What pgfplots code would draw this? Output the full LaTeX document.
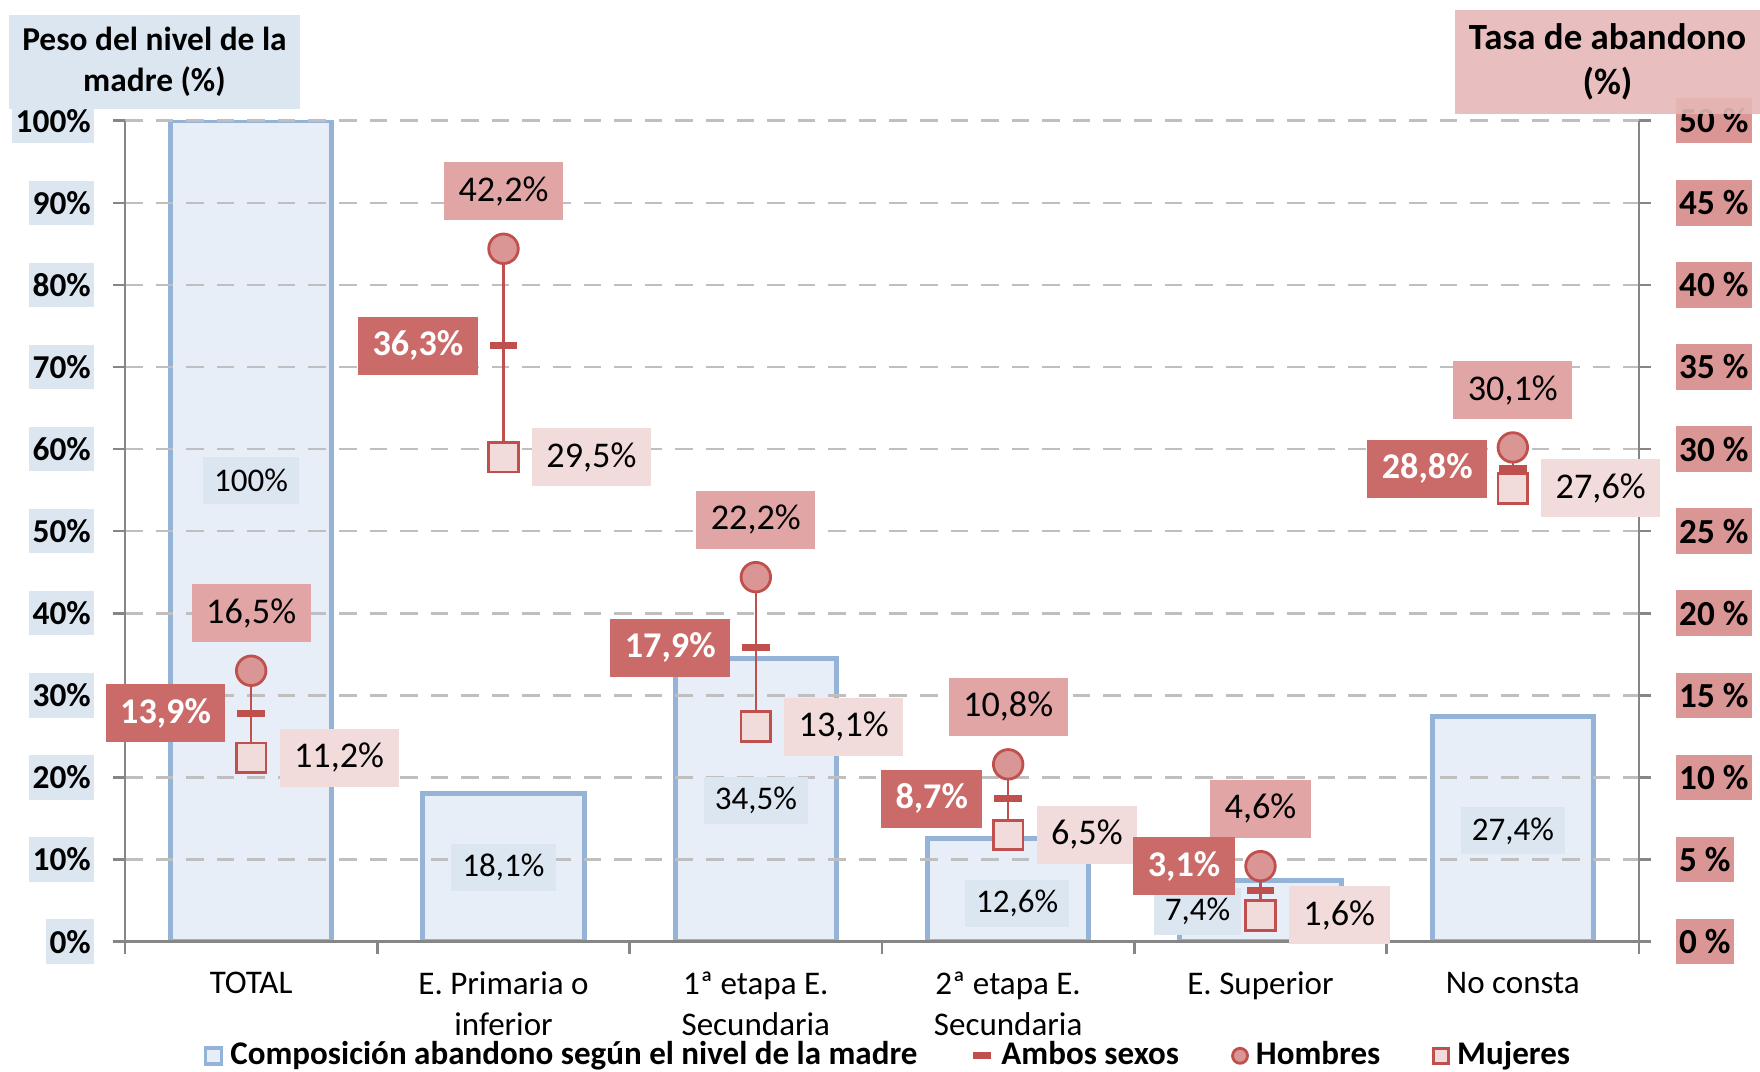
\documentclass[border=0pt]{standalone}
\usepackage{pgfplots}
\pgfplotsset{compat=1.18}
\usepackage{pgfplotstable}
\usepackage{fontspec}
\setmainfont{Carlito}

\definecolor{barfill}{HTML}{E7EEF7}
\definecolor{barline}{HTML}{95B3D7}
\definecolor{barlab}{HTML}{DCE6F1}
\definecolor{rojo}{HTML}{C0504D}
\definecolor{hfill}{HTML}{DA9694}
\definecolor{hlab}{HTML}{E0A5A4}
\definecolor{alab}{HTML}{CB6B69}
\definecolor{mfill}{HTML}{F2DCDB}
\definecolor{rtick}{HTML}{DA9694}
\definecolor{rtitle}{HTML}{E6B8B7}
\definecolor{ejes}{HTML}{868686}
\definecolor{rejilla}{HTML}{BFBFBF}

% peso del nivel de la madre (eje izquierdo)
\pgfplotstableread{
x peso
0 100
1 18.1
2 34.5
3 12.6
4 7.4
5 27.4
}\peso

% posicion de las etiquetas de las barras
\pgfplotstableread{
x pos dx peso
0 56.2 0 100
1 9.0 0 18.1
2 17.2 0 34.5
3 4.65 0.09 12.6
4 3.7 -0.63 7.4
5 13.5 0 27.4
}\pesolab

% tasa de abandono (eje derecho)
\pgfplotstableread{
x hombres ambos mujeres dy
0 16.5 13.9 11.2 0
1 42.2 36.3 29.5 0
2 22.2 17.9 13.1 0
3 10.8 8.7 6.5 0
4 4.6 3.1 1.6 0.247
5 30.1 28.8 27.6 0
}\tasa

\pgfkeys{/pgf/number format/.cd, use comma, fixed, precision=1, assume math mode=true}

\tikzset{lab/.style={text=black, font=\fontsize{10.3}{12}\selectfont, inner xsep=0.145cm,
    inner ysep=0pt, minimum height=0.58cm}}

\pgfplotsset{
  base/.style={
    width=15.14cm, height=8.21cm, scale only axis,
    at={(0,0)}, anchor=south west,
    xmin=-0.5, xmax=5.5,
    axis line style={ejes, line width=0.7pt},
    tick style={ejes, line width=0.7pt},
    major tick length=0pt, minor tick length=0.12cm,
    tick align=outside,
  },
}

\begin{document}
\begin{tikzpicture}
\begin{axis}[base,
  ymin=0, ymax=100, ytick={0,10,...,100}, minor ytick={0,10,...,100},
  axis x line*=bottom, axis y line*=left,
  axis on top,
  ymajorgrids, major grid style={rejilla, line width=0.7pt, dash pattern=on 5pt off 3.7pt},
  yticklabel={\pgfmathprintnumber[assume math mode=true]{\tick}\%},
  yticklabel style={anchor=east, font=\fontsize{9.5}{11}\selectfont\bfseries, fill=barlab,
    inner xsep=1pt, inner ysep=3pt, xshift=-0.3cm},
  xtick={0,...,5}, minor xtick={-0.5,0.5,...,5.5},
  xticklabels={TOTAL, E. Primaria o\\inferior, 1ª etapa E.\\Secundaria, 2ª etapa E.\\Secundaria, E. Superior, No consta},
  xticklabel style={align=center, font=\fontsize{9.4}{11.5}\selectfont, yshift=-0.18cm},
]
\addplot[ybar, bar width=0.64, fill=barfill, draw=barline, line width=1.4pt]
  table[x=x, y=peso]{\peso};
\addplot[draw=none, mark=none, nodes near coords, point meta=\thisrow{peso},
  nodes near coords={\pgfmathprintnumber{\pgfplotspointmeta}\%},
  visualization depends on={\thisrow{dx} \as \dx},
  every node near coord/.append style={anchor=center, xshift=\dx cm, fill=barlab, text=black,
    font=\fontsize{9.4}{11}\selectfont, inner xsep=0.11cm, inner ysep=0pt, minimum height=0.47cm}]
  table[x=x, y=pos]{\pesolab};
\end{axis}

\begin{axis}[base,
  ymin=0, ymax=50, ytick={0,5,...,50}, minor ytick={0,5,...,50},
  axis x line=none, axis y line*=right,
  yticklabel={\pgfmathprintnumber[assume math mode=true]{\tick}~\%},
  yticklabel style={anchor=west, font=\fontsize{10}{12}\selectfont\bfseries, fill=rtick,
    inner xsep=1pt, inner ysep=3pt, xshift=0.36cm},
  legend style={at={(0.5056,-0.139)}, anchor=center, draw=none, fill=none,
    font=\fontsize{9.4}{11}\selectfont\bfseries, legend columns=4,
    /tikz/every even column/.append style={column sep=0.45cm}},
]
% Ambos sexos, con la linea entre mujeres y hombres
\addplot[forget plot, only marks, mark=-, mark size=3.9pt, mark options={rojo, line width=1.9pt},
  error bars/.cd, y dir=both, y explicit, error mark=none,
  error bar style={rojo, line width=0.6pt, solid}]
  table[x=x, y=ambos,
    y error plus expr=\thisrow{hombres}-\thisrow{ambos},
    y error minus expr=\thisrow{ambos}-\thisrow{mujeres}]{\tasa};
% Hombres
\addplot[forget plot, only marks, mark=*, mark size=4.2pt,
  mark options={fill=hfill, draw=rojo, line width=0.8pt},
  nodes near coords={\pgfmathprintnumber{\pgfplotspointmeta}\%},
  every node near coord/.append style={lab, anchor=south, yshift=0.27cm, fill=hlab}]
  table[x=x, y=hombres]{\tasa};
% Mujeres
\addplot[forget plot, only marks, mark=square*, mark size=4.2pt,
  mark options={fill=mfill, draw=rojo, line width=0.8pt},
  nodes near coords={\pgfmathprintnumber{\pgfplotspointmeta}\%},
  every node near coord/.append style={lab, anchor=west, xshift=0.27cm, fill=mfill}]
  table[x=x, y=mujeres]{\tasa};
% etiquetas de ambos sexos
\addplot[forget plot, draw=none, mark=none,
  nodes near coords={\pgfmathprintnumber{\pgfplotspointmeta}\%},
  visualization depends on={\thisrow{dy} \as \dy},
  every node near coord/.append style={lab, anchor=east, xshift=-0.25cm, yshift=\dy cm,
    fill=alab, text=white, font=\fontsize{10.3}{12}\selectfont\bfseries}]
  table[x=x, y=ambos]{\tasa};

\addlegendimage{legend image code/.code={\draw[barline, fill=barfill, line width=1pt] (0cm,-0.08cm) rectangle (0.16cm,0.08cm);}}
\addlegendentry{Composición abandono según el nivel de la madre}
\addlegendimage{legend image code/.code={\draw[rojo, line width=2pt] (0cm,0cm) -- (0.18cm,0cm);}}
\addlegendentry{Ambos sexos}
\addlegendimage{legend image code/.code={\draw[rojo, fill=hfill, line width=0.8pt] (0.08cm,0cm) circle (0.075cm);}}
\addlegendentry{Hombres}
\addlegendimage{legend image code/.code={\draw[rojo, fill=mfill, line width=0.8pt] (0cm,-0.075cm) rectangle (0.15cm,0.075cm);}}
\addlegendentry{Mujeres}
\end{axis}

\node[fill=barlab, minimum width=2.91cm, minimum height=0.94cm, inner sep=0pt, align=center,
  font=\fontsize{9.5}{11.6}\selectfont\bfseries] at (0.295cm,8.797cm) {Peso del nivel de la\\madre (\%)};
\node[fill=rtitle, fill opacity=0.9, text opacity=1, minimum width=3.05cm, minimum height=1.04cm, inner sep=0pt, align=center,
  font=\fontsize{10.5}{12.8}\selectfont\bfseries] at (14.825cm,8.797cm) {Tasa de abandono\\(\%)};

\pgfresetboundingbox
\path[use as bounding box] (-1.25cm,-1.303cm) rectangle (16.35cm,9.417cm);
\end{tikzpicture}
\end{document}
